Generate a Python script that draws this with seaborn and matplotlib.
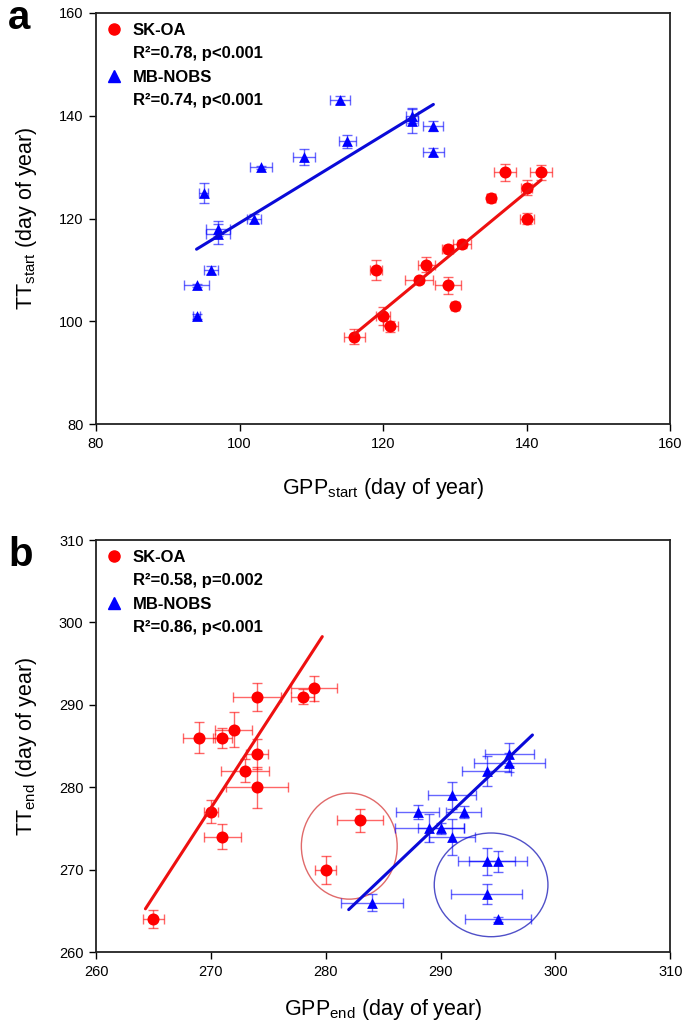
import numpy as np
import matplotlib
matplotlib.use("Agg")
import matplotlib.pyplot as plt
import seaborn as sns
from matplotlib.lines import Line2D
from matplotlib.patches import Ellipse

# ---------------- data ----------------
# panel a : start of season
a_sk_x = [137, 142, 140, 135, 140, 131, 129, 126, 119, 125, 129, 130, 120, 121, 116]
a_sk_y = [129, 129, 126, 124, 120, 115, 114, 111, 110, 108, 107, 103, 101, 99, 97]
a_sk_xerr = [1.5, 1.5, 0.8, 0.6, 1.0, 1.2, 0.8, 1.2, 0.8, 2.0, 1.8, 0.5, 1.0, 1.0, 1.5]
a_sk_yerr = [1.7, 1.5, 1.5, 0.8, 1.0, 0.8, 0.8, 1.5, 2.0, 0.5, 1.6, 0.5, 1.8, 1.0, 1.5]

a_mb_x = [114, 124, 124, 127, 127, 115, 109, 103, 95, 102, 97, 97, 96, 94, 94]
a_mb_y = [143, 140, 139, 138, 133, 135, 132, 130, 125, 120, 118, 117, 110, 107, 101]
a_mb_xerr = [1.4, 0.8, 0.8, 1.4, 1.5, 1.2, 1.5, 1.5, 0.6, 1.0, 1.7, 1.7, 1.0, 1.8, 0.5]
a_mb_yerr = [0.8, 1.5, 2.3, 1.0, 0.8, 1.3, 1.5, 0.3, 2.0, 0.8, 1.5, 2.0, 0.8, 0.3, 0.5]

# panel b : end of season
b_sk_x = [279, 278, 274, 272, 269, 271, 274, 273, 274, 270, 271, 265, 280, 283]
b_sk_y = [292, 291, 291, 287, 286, 286, 284, 282, 280, 277, 274, 264, 270, 276]
b_sk_xerr = [2.0, 1.0, 2.1, 1.6, 1.4, 0.8, 0.95, 2.1, 2.7, 0.6, 1.6, 0.9, 0.9, 2.0]
b_sk_yerr = [1.5, 0.9, 1.7, 2.1, 1.9, 1.2, 1.8, 1.4, 2.5, 1.4, 1.5, 1.1, 1.7, 1.4]
b_sk_outlier = [0, 0, 0, 0, 0, 0, 0, 0, 0, 0, 0, 0, 1, 1]

b_mb_x = [296, 296, 294, 291, 288, 292, 289, 290, 291, 294, 295, 294, 295, 284]
b_mb_y = [284, 283, 282, 279, 277, 277, 275, 275, 274, 271, 271, 267, 264, 266]
b_mb_xerr = [2.1, 3.1, 2.1, 2.1, 1.9, 1.5, 3.0, 2.0, 2.0, 2.5, 2.5, 3.1, 2.9, 2.7]
b_mb_yerr = [1.4, 1.2, 1.8, 1.6, 0.9, 0.7, 1.7, 0.7, 2.2, 1.6, 1.3, 1.2, 0.3, 1.0]
b_mb_outlier = [0, 0, 0, 0, 0, 0, 0, 0, 0, 1, 1, 1, 1, 0]

site_names = ["SK-OA", "MB-NOBS"]
a_stats = ["R\u00b2=0.78, p<0.001", "R\u00b2=0.74, p<0.001"]
b_stats = ["R\u00b2=0.58, p=0.002", "R\u00b2=0.86, p<0.001"]

a_xticks = [80, 100, 120, 140, 160]
a_yticks = [80, 100, 120, 140, 160]
b_xticks = [260, 270, 280, 290, 300, 310]
b_yticks = [260, 270, 280, 290, 300, 310]

# ---------------- style ----------------
sns.set_theme(style="ticks")
plt.rcParams["font.family"] = ["Liberation Sans", "DejaVu Sans"]
plt.rcParams["mathtext.fontset"] = "custom"
plt.rcParams["mathtext.rm"] = "Liberation Sans"
plt.rcParams["mathtext.it"] = "Liberation Sans"
plt.rcParams["text.color"] = "black"
plt.rcParams["axes.labelcolor"] = "black"
plt.rcParams["xtick.color"] = "black"
plt.rcParams["ytick.color"] = "black"

RED = "#ff0000"
BLUE = "#0000ff"
RED_LINE = "#ee1010"
BLUE_LINE = "#0a0ad8"

fig = plt.figure(figsize=(6.96, 10.23), dpi=100)
ax_a = fig.add_axes([0.138, 0.5855, 0.825, 0.4018])
ax_b = fig.add_axes([0.138, 0.0694, 0.825, 0.4027])


def fit_line(x, y, method="ols"):
    x = np.asarray(x, float)
    y = np.asarray(y, float)
    if method == "rma":
        r = np.corrcoef(x, y)[0, 1]
        slope = np.sign(r) * y.std() / x.std()
        icpt = y.mean() - slope * x.mean()
    else:
        slope, icpt = np.polyfit(x, y, 1)
    return slope, icpt


def draw_series(ax, x, y, xerr, yerr, color, lcolor, marker, ms, use, ext, method):
    x = np.asarray(x, float)
    y = np.asarray(y, float)
    ax.errorbar(x, y, xerr=xerr, yerr=yerr, fmt="none", ecolor=color,
                elinewidth=1.0, capsize=3.5, capthick=1.0, alpha=0.6, zorder=2)
    sns.scatterplot(x=x, y=y, ax=ax, marker=marker, s=ms, color=color,
                    edgecolor=color, linewidth=0, zorder=3, legend=False)
    use = np.asarray(use, bool)
    slope, icpt = fit_line(x[use], y[use], method)
    xs = np.array([x[use].min() - ext, x[use].max() + ext])
    sns.lineplot(x=xs, y=slope * xs + icpt, ax=ax, color=lcolor, lw=2.2,
                 zorder=4, legend=False)


def draw_ellipse(ax, x, y, xerr, yerr, mask, color):
    mask = np.asarray(mask, bool)
    x = np.asarray(x, float)[mask]
    y = np.asarray(y, float)[mask]
    xe = np.asarray(xerr, float)[mask]
    ye = np.asarray(yerr, float)[mask]
    x0, x1 = (x - xe).min(), (x + xe).max()
    y0, y1 = (y - ye).min(), (y + ye).max()
    k = np.sqrt(2)
    ax.add_patch(Ellipse(((x0 + x1) / 2, (y0 + y1) / 2), (x1 - x0) * k,
                         (y1 - y0) * k, fill=False, edgecolor=color, lw=1.0,
                         zorder=1))


# panel a
draw_series(ax_a, a_sk_x, a_sk_y, a_sk_xerr, a_sk_yerr, RED, RED_LINE, "o", 75,
            [1] * len(a_sk_x), 0.0, "ols")
draw_series(ax_a, a_mb_x, a_mb_y, a_mb_xerr, a_mb_yerr, BLUE, BLUE_LINE, "^", 60,
            [1] * len(a_mb_x), 0.0, "ols")

# panel b
draw_series(ax_b, b_sk_x, b_sk_y, b_sk_xerr, b_sk_yerr, RED, RED_LINE, "o", 75,
            [1 - v for v in b_sk_outlier], 0.7, "rma")
draw_series(ax_b, b_mb_x, b_mb_y, b_mb_xerr, b_mb_yerr, BLUE, BLUE_LINE, "^", 60,
            [1 - v for v in b_mb_outlier], 2.0, "ols")
draw_ellipse(ax_b, b_sk_x, b_sk_y, b_sk_xerr, b_sk_yerr, b_sk_outlier, "#e06a6a")
draw_ellipse(ax_b, b_mb_x, b_mb_y, b_mb_xerr, b_mb_yerr, b_mb_outlier, "#5050c8")


def style_axes(ax, xticks, yticks, xlabel, ylabel, stats, xpad):
    ax.set_xlim(xticks[0], xticks[-1])
    ax.set_ylim(yticks[0], yticks[-1])
    ax.set_xticks(xticks)
    ax.set_yticks(yticks)
    ax.tick_params(axis="both", direction="out", length=5, width=1.0,
                   labelsize=10.5, colors="black", pad=4)
    for s in ax.spines.values():
        s.set_visible(True)
        s.set_linewidth(1.3)
        s.set_color("#222222")
    ax.set_xlabel(xlabel, fontsize=15.5, labelpad=xpad, color="black")
    ax.set_ylabel(ylabel, fontsize=15.5, labelpad=14, color="black")
    ax.grid(False)
    ax.set_facecolor("white")
    blank = Line2D([], [], linestyle="none", marker=None)
    handles = [Line2D([], [], linestyle="none", marker="o", color=RED, markersize=8),
               blank,
               Line2D([], [], linestyle="none", marker="^", color=BLUE, markersize=8),
               blank]
    labels = [site_names[0], stats[0], site_names[1], stats[1]]
    leg = ax.legend(handles, labels, loc="upper left", frameon=False,
                    prop={"weight": "bold", "size": 12}, handlelength=1.0,
                    handletextpad=0.6, labelspacing=0.5, borderaxespad=0.3,
                    borderpad=0.3, labelcolor="black")
    return leg


style_axes(ax_a, a_xticks, a_yticks,
           r"GPP$_{\mathregular{start}}$ (day of year)",
           r"TT$_{\mathregular{start}}$ (day of year)", a_stats, 18)
style_axes(ax_b, b_xticks, b_yticks,
           r"GPP$_{\mathregular{end}}$ (day of year)",
           r"TT$_{\mathregular{end}}$ (day of year)", b_stats, 13)

fig.text(0.012, 0.972, "a", fontsize=29, fontweight="bold", va="baseline",
         color="black")
fig.text(0.012, 0.447, "b", fontsize=29, fontweight="bold", va="baseline",
         color="black")

fig.savefig("out.png", dpi=100, facecolor="white")
